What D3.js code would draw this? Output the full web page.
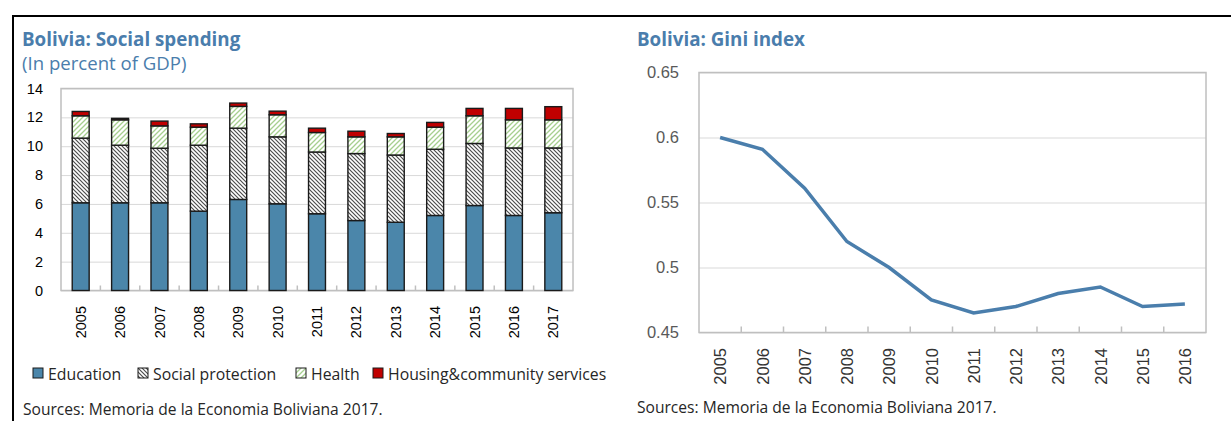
<!DOCTYPE html>
<html lang="en">
  <head>
    <meta charset="UTF-8" />
    <title>Bolivia: Social spending and Gini index</title>
    <script src="https://d3js.org/d3.v7.min.js"></script>
    <style>
      body { margin: 0; background: #fff; }
      text { font-family: "Open Sans", sans-serif; }
      .axis text { font-family: "Liberation Sans", Arial, sans-serif; }
    </style>
  </head>
  <body>
    <svg id="chart" width="1231" height="421"></svg>

    <script>
      // Data
      const years = ["2005", "2006", "2007", "2008", "2009", "2010", "2011", "2012", "2013", "2014", "2015", "2016", "2017"];
      const education = [6.08, 6.08, 6.08, 5.5, 6.31, 6.01, 5.32, 4.85, 4.73, 5.2, 5.89, 5.2, 5.39];
      const socialProtection = [4.48, 3.99, 3.78, 4.57, 4.94, 4.64, 4.28, 4.64, 4.66, 4.59, 4.3, 4.68, 4.49];
      const health = [1.55, 1.76, 1.55, 1.25, 1.51, 1.53, 1.35, 1.16, 1.26, 1.53, 1.92, 1.95, 1.95];
      const housing = [0.3, 0.1, 0.33, 0.23, 0.23, 0.25, 0.3, 0.39, 0.23, 0.33, 0.51, 0.79, 0.91];
      const spendTicks = [0, 2, 4, 6, 8, 10, 12, 14];

      const giniYears = ["2005", "2006", "2007", "2008", "2009", "2010", "2011", "2012", "2013", "2014", "2015", "2016"];
      const gini = [0.6, 0.591, 0.561, 0.52, 0.5, 0.475, 0.465, 0.47, 0.48, 0.485, 0.47, 0.472];
      const giniTicks = [0.45, 0.5, 0.55, 0.6, 0.65];
      const giniTickLabels = ["0.45", "0.5", "0.55", "0.6", "0.65"];

      const seriesNames = ["Education", "Social protection", "Health", "Housing&community services"];

      const titleColor = "#4a7dac";
      const svg = d3.select("#chart");

      // Patterns for hatched segments
      const defs = svg.append("defs");
      const hatchSocial = defs.append("pattern")
        .attr("id", "hatchSocial")
        .attr("patternUnits", "userSpaceOnUse")
        .attr("width", 4)
        .attr("height", 4);
      hatchSocial.append("rect").attr("width", 4).attr("height", 4).attr("fill", "#fff");
      hatchSocial.append("path")
        .attr("d", "M-1,-1 L5,5 M-1,3 L1,5 M3,-1 L5,1")
        .attr("stroke", "#4d4d4d")
        .attr("stroke-width", 1.2);

      const hatchHealth = defs.append("pattern")
        .attr("id", "hatchHealth")
        .attr("patternUnits", "userSpaceOnUse")
        .attr("width", 5)
        .attr("height", 5);
      hatchHealth.append("rect").attr("width", 5).attr("height", 5).attr("fill", "#fff");
      hatchHealth.append("path")
        .attr("d", "M-1,6 L6,-1 M-1,1 L1,-1 M4,6 L6,4")
        .attr("stroke", "#a6cf8f")
        .attr("stroke-width", 1.3);

      const fills = ["#4b86aa", "url(#hatchSocial)", "url(#hatchHealth)", "#c00000"];

      // Outer frame
      svg.append("line").attr("x1", 12).attr("x2", 1231).attr("y1", 16).attr("y2", 16)
        .attr("stroke", "#000").attr("stroke-width", 2);
      svg.append("line").attr("x1", 13).attr("x2", 13).attr("y1", 15).attr("y2", 421)
        .attr("stroke", "#000").attr("stroke-width", 2);

      // ---------- Left: social spending ----------
      const L = { left: 61, right: 573, top: 88.5, bottom: 290.5 };

      svg.append("text").attr("x", 22).attr("y", 46)
        .attr("fill", titleColor).attr("font-weight", "bold").attr("font-size", 18.8)
        .text("Bolivia: Social spending");
      svg.append("text").attr("x", 22).attr("y", 70)
        .attr("fill", titleColor).attr("font-size", 18.6)
        .text("(In percent of GDP)");

      const x1 = d3.scaleBand()
        .domain(years)
        .range([L.left, L.right])
        .paddingInner(0.57)
        .paddingOuter(0.285);

      const y1 = d3.scaleLinear().domain([0, 14]).range([L.bottom, L.top]);

      // gridlines
      svg.append("g")
        .attr("transform", `translate(${L.left},0)`)
        .call(d3.axisLeft(y1).tickValues(spendTicks).tickSize(-(L.right - L.left)).tickFormat(""))
        .call((g) => g.select(".domain").remove())
        .selectAll("line").attr("stroke", "#d9d9d9");

      svg.append("rect")
        .attr("x", L.left).attr("y", L.top)
        .attr("width", L.right - L.left).attr("height", L.bottom - L.top)
        .attr("fill", "none").attr("stroke", "#bfbfbf").attr("stroke-width", 1.5);

      // y labels
      svg.append("g")
        .attr("class", "axis")
        .attr("transform", `translate(${L.left},0)`)
        .call(d3.axisLeft(y1).tickValues(spendTicks).tickSize(0).tickPadding(18))
        .call((g) => g.select(".domain").remove())
        .selectAll("text").attr("font-size", 14.5).attr("fill", "#000");

      // inner ticks between categories
      svg.append("g").selectAll("line")
        .data(years.slice(1))
        .enter()
        .append("line")
        .attr("x1", (d) => x1(d) - (x1.step() - x1.bandwidth()) / 2)
        .attr("x2", (d) => x1(d) - (x1.step() - x1.bandwidth()) / 2)
        .attr("y1", L.bottom)
        .attr("y2", L.bottom - 5)
        .attr("stroke", "#bfbfbf")
        .attr("stroke-width", 1.5);

      // stacked bars
      const table = years.map((yr, i) => ({
        year: yr,
        "Education": education[i],
        "Social protection": socialProtection[i],
        "Health": health[i],
        "Housing&community services": housing[i],
      }));
      const stacked = d3.stack().keys(seriesNames)(table);

      svg.append("g").selectAll("g")
        .data(stacked)
        .enter()
        .append("g")
        .attr("fill", (d, i) => fills[i])
        .selectAll("rect")
        .data((d) => d)
        .enter()
        .append("rect")
        .attr("x", (d) => x1(d.data.year))
        .attr("y", (d) => y1(d[1]))
        .attr("width", x1.bandwidth())
        .attr("height", (d) => y1(d[0]) - y1(d[1]))
        .attr("stroke", "#1a1a1a")
        .attr("stroke-width", 1.4);

      // x labels
      svg.append("g")
        .attr("class", "axis")
        .attr("transform", `translate(0,${L.bottom})`)
        .call(d3.axisBottom(x1).tickSize(0))
        .call((g) => g.select(".domain").remove())
        .selectAll("text")
        .attr("transform", "rotate(-90)")
        .attr("text-anchor", "end")
        .attr("x", -15.5)
        .attr("y", 0)
        .attr("dy", "0.35em")
        .attr("font-size", 14.5)
        .attr("fill", "#000");

      // legend
      const legendX = [33, 138, 296, 373];
      const legend = svg.append("g").selectAll("g")
        .data(seriesNames)
        .enter()
        .append("g")
        .attr("transform", (d, i) => `translate(${legendX[i]},368)`);
      legend.append("rect")
        .attr("width", 10).attr("height", 10)
        .attr("fill", (d, i) => fills[i])
        .attr("stroke", "#1a1a1a").attr("stroke-width", 1);
      legend.append("text")
        .attr("x", 15).attr("y", 11.5)
        .attr("font-size", 15.8).attr("fill", "#262626")
        .text((d) => d);

      svg.append("text").attr("x", 23).attr("y", 415)
        .attr("font-size", 15.6).attr("fill", "#262626")
        .text("Sources: Memoria de la Economia Boliviana 2017.");

      // ---------- Right: Gini index ----------
      const R = { left: 699, right: 1206, top: 72.5, bottom: 332.5 };

      svg.append("text").attr("x", 637).attr("y", 46)
        .attr("fill", titleColor).attr("font-weight", "bold").attr("font-size", 18.8)
        .text("Bolivia: Gini index");

      const x2 = d3.scalePoint().domain(giniYears).range([R.left, R.right]).padding(0.5);
      const y2 = d3.scaleLinear().domain([0.45, 0.65]).range([R.bottom, R.top]);

      svg.append("g")
        .attr("transform", `translate(${R.left},0)`)
        .call(d3.axisLeft(y2).tickValues(giniTicks).tickSize(-(R.right - R.left)).tickFormat(""))
        .call((g) => g.select(".domain").remove())
        .selectAll("line").attr("stroke", "#d9d9d9");

      svg.append("rect")
        .attr("x", R.left).attr("y", R.top)
        .attr("width", R.right - R.left).attr("height", R.bottom - R.top)
        .attr("fill", "none").attr("stroke", "#bfbfbf").attr("stroke-width", 1.5);

      svg.append("g")
        .attr("class", "axis")
        .attr("transform", `translate(${R.left},0)`)
        .call(d3.axisLeft(y2).tickValues(giniTicks).tickSize(0).tickPadding(20)
          .tickFormat((d, i) => giniTickLabels[i]))
        .call((g) => g.select(".domain").remove())
        .selectAll("text").attr("font-size", 16.5).attr("fill", "#595959");

      svg.append("g").selectAll("line")
        .data(giniYears.slice(1))
        .enter()
        .append("line")
        .attr("x1", (d) => x2(d) - x2.step() / 2)
        .attr("x2", (d) => x2(d) - x2.step() / 2)
        .attr("y1", R.bottom)
        .attr("y2", R.bottom - 6)
        .attr("stroke", "#bfbfbf")
        .attr("stroke-width", 1.5);

      svg.append("g")
        .attr("class", "axis")
        .attr("transform", `translate(0,${R.bottom})`)
        .call(d3.axisBottom(x2).tickSize(0))
        .call((g) => g.select(".domain").remove())
        .selectAll("text")
        .attr("transform", "rotate(-90)")
        .attr("text-anchor", "end")
        .attr("x", -15.5)
        .attr("y", 0)
        .attr("dy", "0.35em")
        .attr("font-size", 16.5)
        .attr("fill", "#333");

      const line = d3.line()
        .x((d, i) => x2(giniYears[i]))
        .y((d) => y2(d));

      svg.append("path")
        .datum(gini)
        .attr("d", line)
        .attr("fill", "none")
        .attr("stroke", "#4a7eac")
        .attr("stroke-width", 3.5);

      svg.append("text").attr("x", 637).attr("y", 413)
        .attr("font-size", 15.6).attr("fill", "#262626")
        .text("Sources: Memoria de la Economia Boliviana 2017.");
    </script>
  </body>
</html>
